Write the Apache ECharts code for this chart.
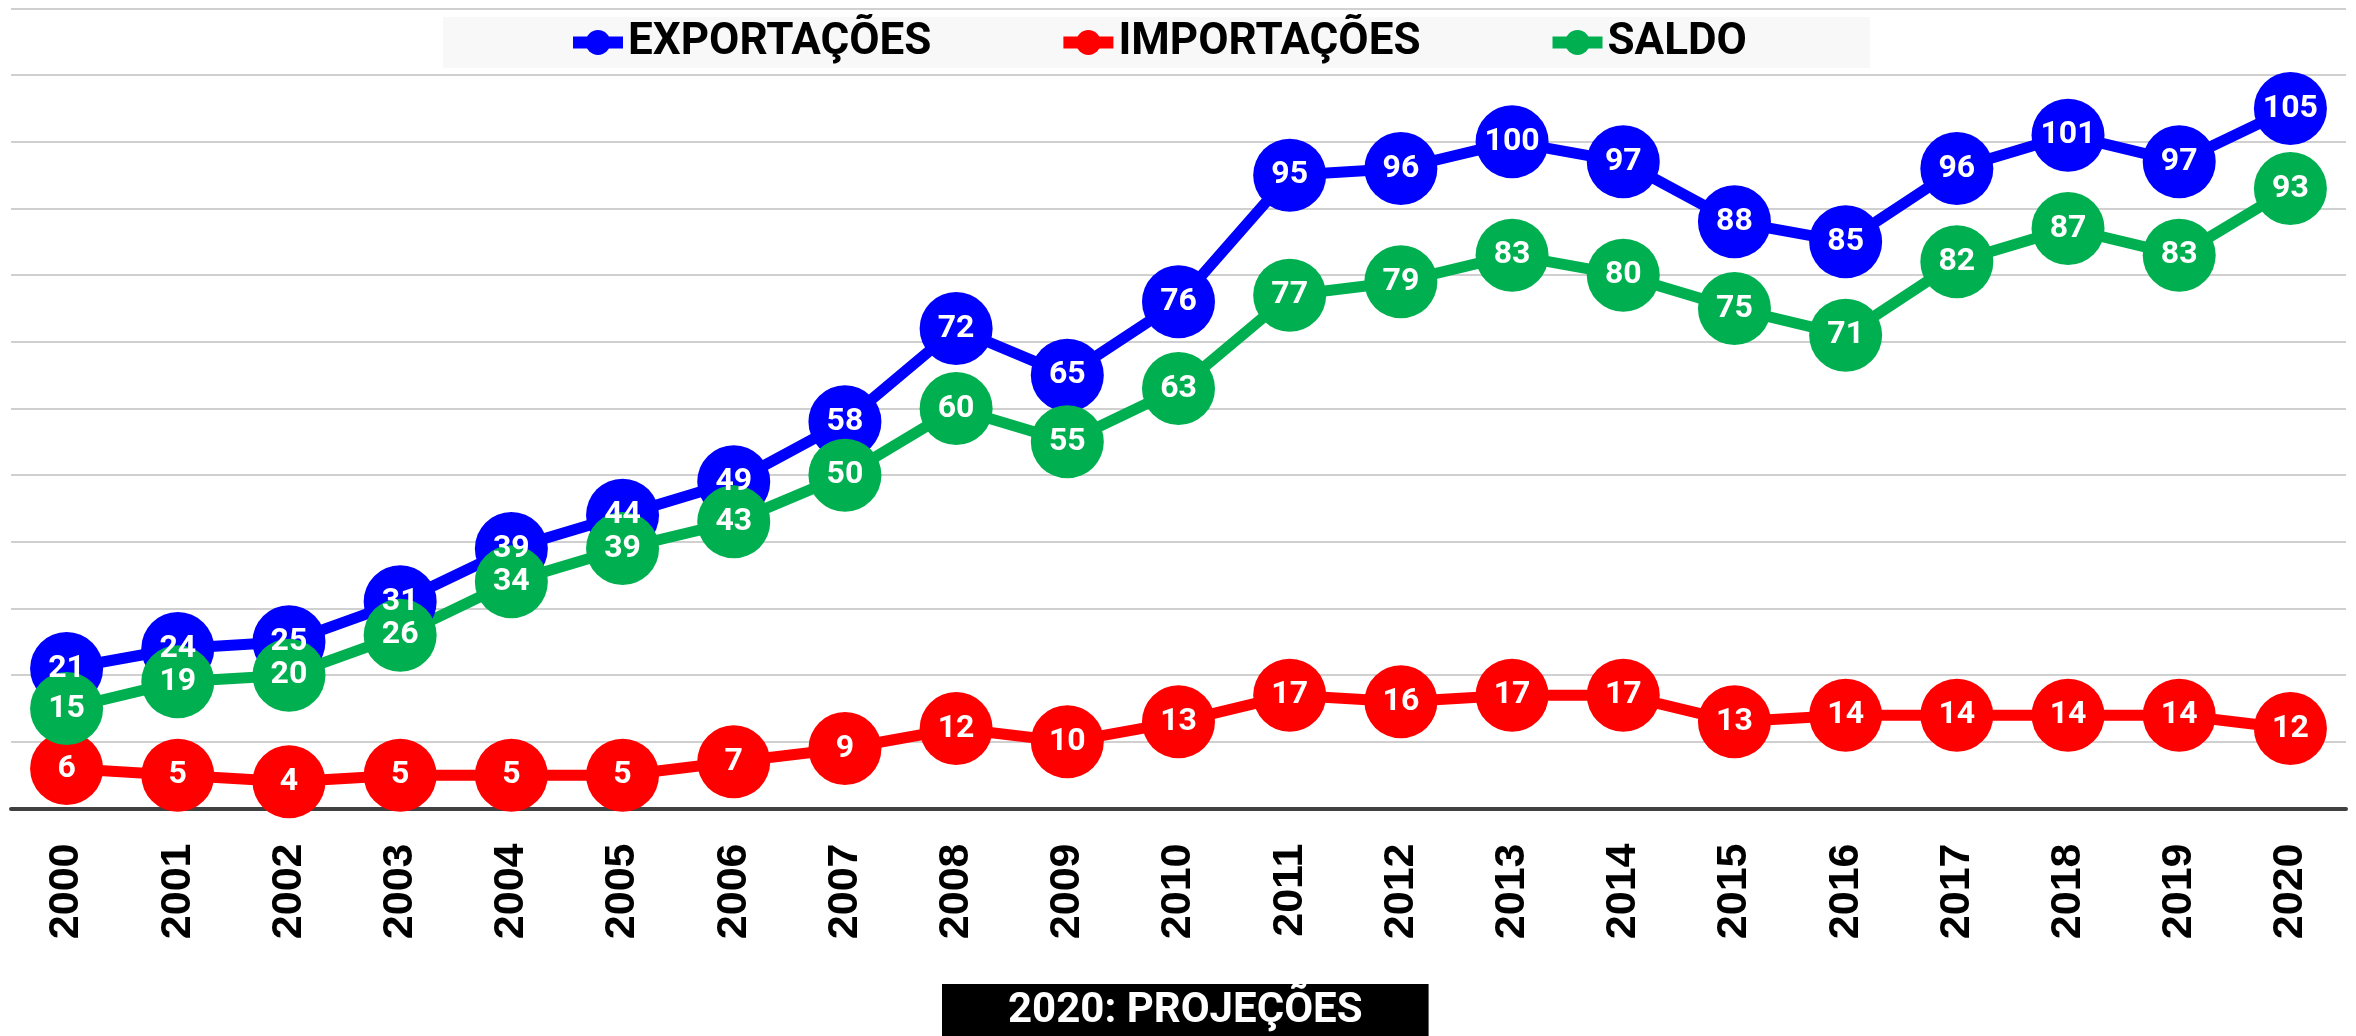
<!DOCTYPE html>
<html>
<head>
<meta charset="utf-8">
<script src="https://cdn.jsdelivr.net/npm/echarts@6/dist/echarts.min.js"></script>
<style>
  html, body { margin: 0; padding: 0; background: #fff; }
  #chart { width: 2356px; height: 1036px; }
</style>
</head>
<body>
<div id="chart"></div>
<script>
// anos e séries
var anos = ['2000', '2001', '2002', '2003', '2004', '2005', '2006', '2007', '2008', '2009', '2010',
            '2011', '2012', '2013', '2014', '2015', '2016', '2017', '2018', '2019', '2020'];
var exportacoes = [21, 24, 25, 31, 39, 44, 49, 58, 72, 65, 76, 95, 96, 100, 97, 88, 85, 96, 101, 97, 105];
var importacoes = [6, 5, 4, 5, 5, 5, 7, 9, 12, 10, 13, 17, 16, 17, 17, 13, 14, 14, 14, 14, 12];
var saldo = [15, 19, 20, 26, 34, 39, 43, 50, 60, 55, 63, 77, 79, 83, 80, 75, 71, 82, 87, 83, 93];

var chart = echarts.init(document.getElementById('chart'));

function serie(nome, cor, dados) {
    return {
        name: nome,
        type: 'line',
        data: dados,
        symbol: 'circle',
        symbolSize: 73,
        lineStyle: { color: cor, width: 11 },
        itemStyle: { color: cor },
        label: {
            show: true,
            position: 'inside',
            color: '#fff',
            fontFamily: 'Roboto',
            fontWeight: 'bold',
            fontSize: 32
        }
    };
}

chart.setOption({
    animation: false,
    title: {
        text: '2020: PROJEÇÕES',
        left: 942,
        top: 984,
        padding: [6, 66, 12, 66],
        backgroundColor: '#000',
        textStyle: {
            color: '#fff',
            fontFamily: 'Roboto',
            fontWeight: 'bold',
            fontSize: 42
        }
    },
    legend: {
        left: 443,
        top: 17,
        padding: [0, 123, 0, 124],
        itemGap: 126,
        itemWidth: 50,
        itemHeight: 31,
        backgroundColor: '#f8f8f8',
        lineStyle: { width: 12 },
        textStyle: {
            color: '#000',
            fontFamily: 'Roboto',
            fontWeight: 'bold',
            fontSize: 44,
            lineHeight: 51
        }
    },
    grid: {
        left: 11,
        right: 10,
        top: 8.5,
        bottom: 227.5,
        containLabel: false,
        outerBoundsMode: 'none'
    },
    xAxis: {
        type: 'category',
        data: anos,
        boundaryGap: true,
        axisLine: { lineStyle: { color: '#404040', width: 4 } },
        axisTick: { show: false },
        axisLabel: {
            rotate: 90,
            margin: 35,
            color: '#000',
            fontFamily: 'Liberation Sans',
            fontWeight: 'bold',
            fontSize: 43
        }
    },
    yAxis: {
        type: 'value',
        min: 0,
        max: 120,
        interval: 10,
        axisLine: { show: false },
        axisTick: { show: false },
        axisLabel: { show: false },
        splitLine: { lineStyle: { color: '#d0d0d0', width: 2 } }
    },
    series: [
        serie('EXPORTAÇÕES', '#0000ff', exportacoes),
        serie('IMPORTAÇÕES', '#ff0000', importacoes),
        serie('SALDO', '#00b050', saldo)
    ]
});
</script>
</body>
</html>
